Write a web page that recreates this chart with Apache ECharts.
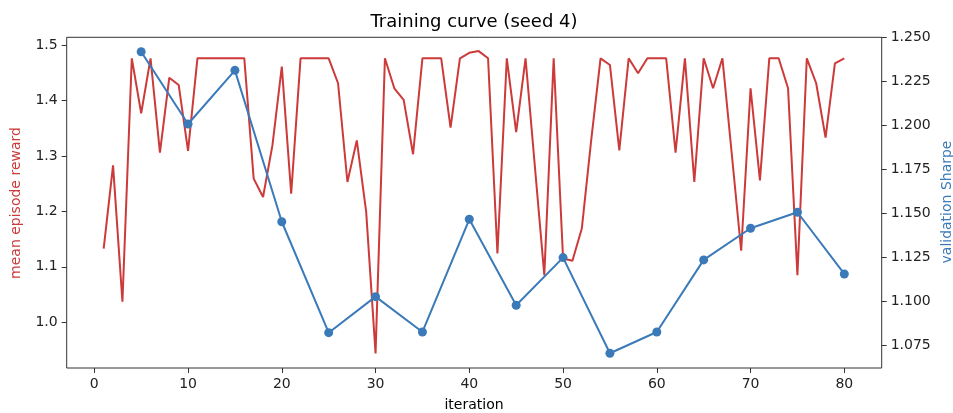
<!DOCTYPE html>
<html>
<head>
<meta charset="utf-8" />
<title>Training curve</title>
<script src="https://cdn.jsdelivr.net/npm/echarts@6/dist/echarts.min.js"></script>
<style>
html, body { margin: 0; width: 100%; height: 100%; background: #fff; }
#main { width: 953px; height: 413px; }
</style>
</head>
<body>
<div id="main"></div>
<script>
// mean episode reward, iterations 1..80
var iterations = [];
for (var k = 1; k <= 80; k++) iterations.push(k);
var reward = [
  1.133, 1.283, 1.037, 1.476, 1.377, 1.476, 1.306, 1.441, 1.428, 1.309,
  1.476, 1.476, 1.476, 1.476, 1.476, 1.476, 1.259, 1.226, 1.319, 1.461,
  1.232, 1.476, 1.476, 1.476, 1.476, 1.431, 1.253, 1.328, 1.199, 0.944,
  1.476, 1.422, 1.401, 1.303, 1.476, 1.476, 1.476, 1.351, 1.476, 1.486,
  1.489, 1.476, 1.124, 1.476, 1.343, 1.476, 1.280, 1.085, 1.476, 1.115,
  1.111, 1.169, 1.328, 1.476, 1.464, 1.310, 1.476, 1.449, 1.476, 1.476,
  1.476, 1.306, 1.476, 1.253, 1.476, 1.422, 1.476, 1.303, 1.129, 1.422,
  1.256, 1.476, 1.476, 1.422, 1.085, 1.476, 1.431, 1.333, 1.467, 1.476
];
// validation Sharpe every 5 iterations
var valIters = [5, 10, 15, 20, 25, 30, 35, 40, 45, 50, 55, 60, 65, 70, 75, 80];
var sharpe = [1.2418, 1.2007, 1.2312, 1.1451, 1.0820, 1.1025, 1.0824, 1.1465,
              1.0976, 1.1247, 1.0703, 1.0824, 1.1234, 1.1414, 1.1505, 1.1154];

var RED = '#cc3a3a';
var BLUE = '#3b7ab8';
var FONT = 'DejaVu Sans';

var chart = echarts.init(document.getElementById('main'), null, {renderer: 'canvas'});

var hidden = {show: false};
var noLine = {show: false, onZero: false};
var tickStyle = {show: true, length: 5, lineStyle: {color: '#333', width: 1}};

var option = {
  animation: false,
  backgroundColor: '#fff',
  title: {
    text: 'Training curve (seed 4)',
    left: 469, top: 8, textAlign: 'center',
    textStyle: {fontFamily: FONT, fontSize: 18, fontWeight: 'normal', color: '#000'}
  },
  grid: [
    // frame
    {left: 66.7, top: 37.3, width: 815, height: 330.7, show: true,
     borderColor: '#333', borderWidth: 1, backgroundColor: 'transparent'},
    // reward: x 0..80, y 1.0..1.5
    {left: 94.3, right: 108.7, top: 45, bottom: 90.7},
    // sharpe: y 1.075..1.25
    {left: 94.3, right: 108.7, top: 37.3, bottom: 68}
  ],
  xAxis: [
    {gridIndex: 0, type: 'value', min: 0, max: 1, show: false},
    {gridIndex: 1, type: 'value', min: 0, max: 80, interval: 10, position: 'bottom',
     offset: 45.7, axisLine: noLine, splitLine: hidden, axisTick: tickStyle,
     axisLabel: {margin: 9, fontFamily: FONT, fontSize: 14, color: '#222'}},
    {gridIndex: 2, type: 'value', min: 0, max: 80, show: false}
  ],
  yAxis: [
    {gridIndex: 0, type: 'value', min: 0, max: 1, show: false},
    {gridIndex: 1, type: 'value', min: 1.0, max: 1.5, interval: 0.1, position: 'left',
     offset: 27.6, axisLine: noLine, splitLine: hidden, axisTick: tickStyle,
     axisLabel: {margin: 9, fontFamily: FONT, fontSize: 14, color: '#222',
       formatter: function (v) { return v.toFixed(1); }}},
    {gridIndex: 2, type: 'value', min: 1.075, max: 1.25, interval: 0.025, position: 'right',
     offset: 37.4, axisLine: noLine, splitLine: hidden, axisTick: tickStyle,
     axisLabel: {margin: 9, fontFamily: FONT, fontSize: 14, color: '#222',
       formatter: function (v) { return v.toFixed(3); }}}
  ],
  graphic: [
    {type: 'text', x: 474, y: 405, style: {text: 'iteration', align: 'center', verticalAlign: 'middle',
      font: '14px "DejaVu Sans"', fill: '#000'}},
    {type: 'text', x: 16, y: 203, rotation: Math.PI / 2, style: {text: 'mean episode reward',
      align: 'center', verticalAlign: 'middle', font: '14px "DejaVu Sans"', fill: RED}},
    {type: 'text', x: 947, y: 202, rotation: Math.PI / 2, style: {text: 'validation Sharpe',
      align: 'center', verticalAlign: 'middle', font: '14px "DejaVu Sans"', fill: BLUE}}
  ],
  series: [
    {
      name: 'mean episode reward', type: 'line', xAxisIndex: 1, yAxisIndex: 1,
      data: iterations.map(function (it, i) { return [it, reward[i]]; }),
      showSymbol: false, symbol: 'none', clip: false,
      lineStyle: {color: RED, width: 2}
    },
    {
      name: 'validation Sharpe', type: 'line', xAxisIndex: 2, yAxisIndex: 2,
      data: valIters.map(function (it, i) { return [it, sharpe[i]]; }),
      symbol: 'circle', symbolSize: 9, clip: false,
      lineStyle: {color: BLUE, width: 2},
      itemStyle: {color: BLUE}
    }
  ]
};

chart.setOption(option);
</script>
</body>
</html>
